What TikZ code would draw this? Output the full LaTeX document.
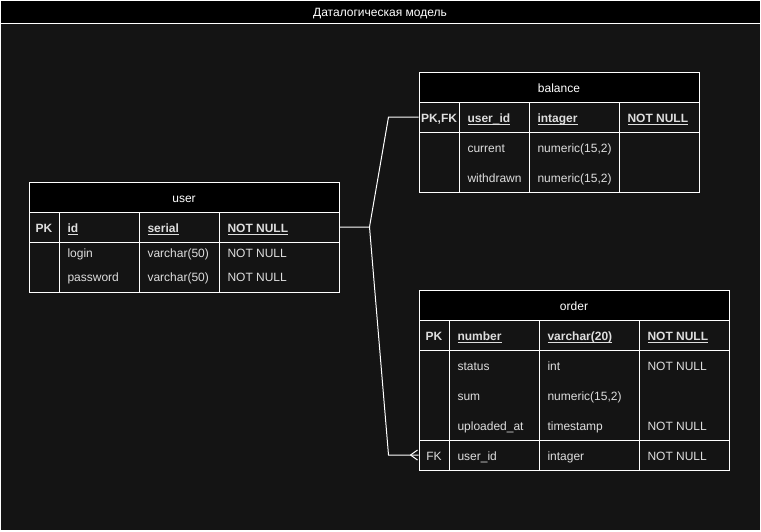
\documentclass[tikz,border=0pt]{standalone}
\usepackage{fontspec}
\setmainfont{Liberation Sans}
\usepackage{xcolor}
\definecolor{canvas}{RGB}{20,20,20}
\definecolor{celltxt}{RGB}{222,222,222}
\newcommand{\ulkey}[1]{\setbox0\hbox{#1}\rlap{\rule[-2.6pt]{\wd0}{0.8pt}}\box0}

\begin{document}
\begin{tikzpicture}[x=1pt,y=-1pt,line width=1pt,
    every node/.style={font=\fontsize{12}{14}\selectfont,text=celltxt,inner sep=0pt,
      text height=10pt,text depth=0pt},
    head/.style={draw=white,fill=black,text=white,minimum height=30pt},
    keyrow/.style={draw=white,minimum height=30pt},
    cell/.style={anchor=west},
    key/.style={font=\fontsize{12}{14}\selectfont\bfseries},
    grid/.style={draw=white},
    link/.style={draw=white,line width=1pt}]
  \useasboundingbox (0,0) rectangle (761,531);
  \fill[canvas] (0,0) rectangle (761,531);

  % frame and title
  \draw[white] (0.5,0.5) rectangle (760,530);
  \node[head,minimum width=759.5pt,minimum height=23pt] (frame) at (380.25,11.75) {};
  \node (title) at (380,11) {\textcolor{white}{Даталогическая модель}};

  % user table
  \node[head,minimum width=310pt] (user) at (184,197) {user};
  \node[keyrow,minimum width=310pt] (userpk) at (184,227) {};
  \draw[grid] (29,242) rectangle (339,292);
  \draw[grid] (59,212) -- (59,292) (139,212) -- (139,292) (219,212) -- (219,292);
  \node[key] (u-pk) at (44,227) {PK};
  \node[cell,key] (u-id) at (67,227) {\ulkey{id}};
  \node[cell,key] (u-idt) at (147,227) {\ulkey{serial}};
  \node[cell,key] (u-idn) at (227,227) {\ulkey{NOT NULL}};
  \node[cell] (u-login) at (67,252) {login};
  \node[cell] (u-logint) at (147,252) {varchar(50)};
  \node[cell] (u-loginn) at (227,252) {NOT NULL};
  \node[cell] (u-pass) at (67,276) {password};
  \node[cell] (u-passt) at (147,276) {varchar(50)};
  \node[cell] (u-passn) at (227,276) {NOT NULL};

  % balance table
  \node[head,minimum width=280pt] (balance) at (559,87) {balance};
  \node[keyrow,minimum width=280pt] (balpk) at (559,117) {};
  \draw[grid] (419,132) rectangle (699,192);
  \draw[grid] (459,102) -- (459,192) (529,102) -- (529,192) (619,102) -- (619,192);
  \node[key] (b-pk) at (439,117) {PK,FK};
  \node[cell,key] (b-uid) at (467,117) {\ulkey{user\_id}};
  \node[cell,key] (b-uidt) at (537,117) {\ulkey{intager}};
  \node[cell,key] (b-uidn) at (627,117) {\ulkey{NOT NULL}};
  \node[cell] (b-cur) at (467,147) {current};
  \node[cell] (b-curt) at (537,147) {numeric(15,2)};
  \node[cell] (b-wd) at (467,177) {withdrawn};
  \node[cell] (b-wdt) at (537,177) {numeric(15,2)};

  % order table
  \node[head,minimum width=310pt] (order) at (574,305) {order};
  \node[keyrow,minimum width=310pt] (ordpk) at (574,335) {};
  \node[keyrow,minimum width=310pt] (ordfk) at (574,455) {};
  \draw[grid] (419,350) rectangle (729,470);
  \draw[grid] (449,320) -- (449,470) (539,320) -- (539,470) (639,320) -- (639,470);
  \node[key] (o-pk) at (434,335) {PK};
  \node[cell,key] (o-num) at (457,335) {\ulkey{number}};
  \node[cell,key] (o-numt) at (547,335) {\ulkey{varchar(20)}};
  \node[cell,key] (o-numn) at (647,335) {\ulkey{NOT NULL}};
  \node[cell] (o-st) at (457,365) {status};
  \node[cell] (o-stt) at (547,365) {int};
  \node[cell] (o-stn) at (647,365) {NOT NULL};
  \node[cell] (o-sum) at (457,395) {sum};
  \node[cell] (o-sumt) at (547,395) {numeric(15,2)};
  \node[cell] (o-up) at (457,425) {uploaded\_at};
  \node[cell] (o-upt) at (547,425) {timestamp};
  \node[cell] (o-upn) at (647,425) {NOT NULL};
  \node (o-fk) at (434,455) {FK};
  \node[cell] (o-uid) at (457,455) {user\_id};
  \node[cell] (o-uidt) at (547,455) {intager};
  \node[cell] (o-uidn) at (647,455) {NOT NULL};

  % relations
  \draw[link] (userpk.east) -- ++(30,0) coordinate (fork)
    -- ([xshift=-30pt]balpk.west) -- (balpk.west);
  \draw[link] (fork) -- ([xshift=-30pt]ordfk.west) -- (ordfk.west);
  % crow's foot
  \draw[link] ([xshift=-8pt]ordfk.west) -- ([xshift=-1pt,yshift=-5pt]ordfk.west)
    ([xshift=-8pt]ordfk.west) -- ([xshift=-1pt,yshift=5pt]ordfk.west);
\end{tikzpicture}
\end{document}
